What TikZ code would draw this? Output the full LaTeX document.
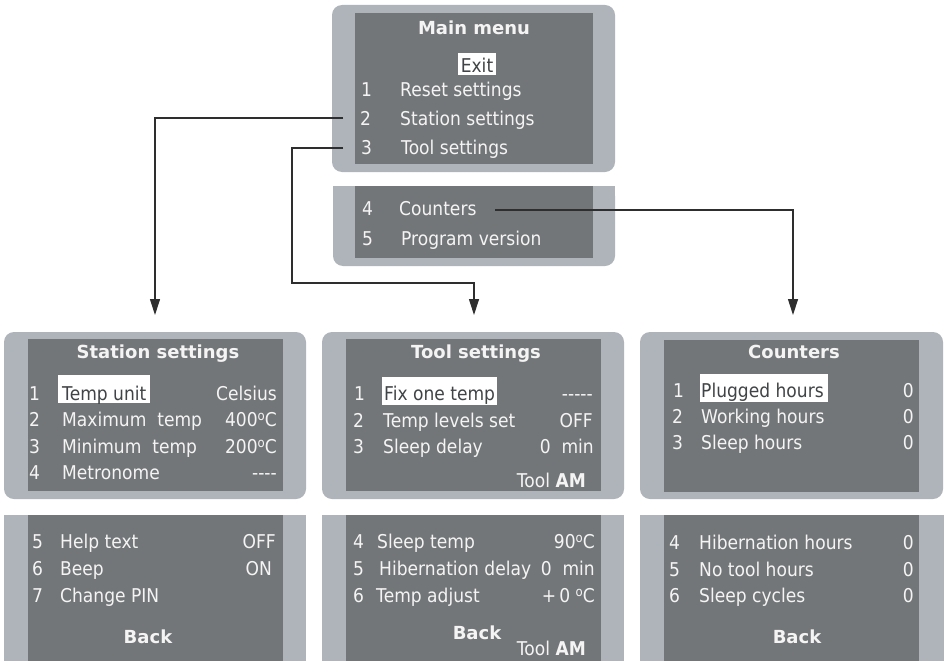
\documentclass[tikz,border=0pt]{standalone}
\usepackage{fontspec}
\newfontfamily\lcd[FakeStretch=0.9]{DejaVu Sans}
\newfontfamily\lcdtitle{DejaVu Sans}
\usetikzlibrary{arrows.meta}
\definecolor{bezel}{HTML}{AEB4B9}
\definecolor{screen}{HTML}{737678}
\definecolor{ink}{HTML}{F4F4F4}
\definecolor{hiink}{HTML}{414446}
\definecolor{wirec}{HTML}{2E2E2E}
\newcommand\degsym{\raisebox{6pt}{\fontsize{13}{13}\selectfont o}}
\begin{document}
\begin{tikzpicture}[x=1pt,y=-1pt,
  bezelbox/.style={fill=bezel, rounded corners=10pt},
  screenbox/.style={fill=screen},
  hibox/.style={fill=white},
  t/.style={font=\lcd\fontsize{19}{19}\selectfont, text=ink, inner sep=0pt, anchor=base west},
  tr/.style={t, anchor=base east},
  th/.style={t, text=hiink},
  ttl/.style={font=\lcdtitle\bfseries\fontsize{18}{18}\selectfont, text=ink, inner sep=0pt, anchor=base},
  wire/.style={draw=wirec, line width=1.1pt},
  arr/.style={wire, -{Triangle[length=16pt,width=10pt]}}
]
\useasboundingbox (0,0) rectangle (944,661);
\fill[white] (0,0) rectangle (944,661);

% ---------- main menu ----------
\fill[bezelbox] (332,5) rectangle (615,172);
\fill[screenbox] (355,13) rectangle (593,164);
\node[ttl] (mtitle) at (474,35) {Main menu};
\fill[hibox] (458,53) rectangle (496,75);
\node[th, anchor=base] (mexit) at (477,72.5) {Exit};
\node[t] (m1n) at (361,96.7) {1};
\node[t] (m1l) at (400,96.7) {Reset settings};
\node[t] (m2n) at (360,125) {2};
\node[t] (m2l) at (400,125) {Station settings};
\node[t] (m3n) at (361,154) {3};
\node[t] (m3l) at (401,154) {Tool settings};

% ---------- main menu, part 2 ----------
\fill[bezelbox] (333,186) rectangle (615,266);
\fill[bezel] (333,186) rectangle (615,226);
\fill[screenbox] (355,186) rectangle (593,258);
\node[t] (m4n) at (362,215) {4};
\node[t] (m4l) at (399,215) {Counters};
\node[t] (m5n) at (362,245) {5};
\node[t] (m5l) at (401,245) {Program version};

% ---------- station settings ----------
\fill[bezelbox] (4,332) rectangle (306,499);
\fill[screenbox] (28,339) rectangle (283,491);
\node[ttl] (stitle) at (158,358) {Station settings};
\fill[hibox] (58,375) rectangle (150,403);
\node[t] (s1n) at (29,400) {1};
\node[th] (s1l) at (62,400) {Temp unit};
\node[tr] (s1v) at (277,400) {Celsius};
\node[t] (s2n) at (29,426.5) {2};
\node[t] (s2l) at (62,426.5) {Maximum\ \ temp};
\node[tr] (s2v) at (277,426.5) {400\degsym C};
\node[t] (s3n) at (29,453) {3};
\node[t] (s3l) at (62,453) {Minimum\ \ temp};
\node[tr] (s3v) at (277,453) {200\degsym C};
\node[t] (s4n) at (29,479.5) {4};
\node[t] (s4l) at (62,479.5) {Metronome};
\node[tr] (s4v) at (277,479.5) {----};

\fill[bezel] (4,515) rectangle (306,661);
\fill[screenbox] (28,515) rectangle (283,661);
\node[t] (s5n) at (32,548) {5};
\node[t] (s5l) at (60,548) {Help text};
\node[tr] (s5v) at (276,548) {OFF};
\node[t] (s6n) at (32,575) {6};
\node[t] (s6l) at (60,575) {Beep};
\node[tr] (s6v) at (272,575) {ON};
\node[t] (s7n) at (32,602) {7};
\node[t] (s7l) at (60,602) {Change PIN};
\node[ttl] (sback) at (148,643) {Back};

% ---------- tool settings ----------
\fill[bezelbox] (322,332) rectangle (624,499);
\fill[screenbox] (346,339) rectangle (601,491);
\node[ttl] (ttitle) at (476,358) {Tool settings};
\fill[hibox] (382,377) rectangle (497,405);
\node[t] (t1n) at (354,400) {1};
\node[th] (t1l) at (384,400) {Fix one temp};
\node[tr] (t1v) at (593,400) {-----};
\node[t] (t2n) at (353,427) {2};
\node[t] (t2l) at (383,427) {Temp\ levels\ set};
\node[tr] (t2v) at (593,427) {OFF};
\node[t] (t3n) at (353,453) {3};
\node[t] (t3l) at (383,453) {Sleep delay};
\node[tr] (t3v) at (594,453) {0\ \ min};
\node[tr] (tam) at (586,487) {Tool \textbf{AM}};

\fill[bezel] (322,515) rectangle (624,661);
\fill[screenbox] (346,515) rectangle (601,661);
\node[t] (t4n) at (353,548) {4};
\node[t] (t4l) at (377,548) {Sleep temp};
\node[tr] (t4v) at (595,548) {90\degsym C};
\node[t] (t5n) at (353,575) {5};
\node[t] (t5l) at (379,575) {Hibernation delay};
\node[tr] (t5v) at (595,575) {0\ \ min};
\node[t] (t6n) at (353,602) {6};
\node[t] (t6l) at (376,602) {Temp adjust};
\node[tr] (t6v) at (595,602) {+\,0\ \degsym C};
\node[ttl] (tback) at (477,639) {Back};
\node[tr] (tam2) at (586,655) {Tool \textbf{AM}};

% ---------- counters ----------
\fill[bezelbox] (640,332) rectangle (943,499);
\fill[screenbox] (664,340) rectangle (919,492);
\node[ttl] (ctitle) at (794,358) {Counters};
\fill[hibox] (700,374) rectangle (828,402);
\node[t] (c1n) at (673,397) {1};
\node[th] (c1l) at (701,397) {Plugged hours};
\node[tr] (c1v) at (914,397) {0};
\node[t] (c2n) at (672,423) {2};
\node[t] (c2l) at (701,423) {Working hours};
\node[tr] (c2v) at (914,423) {0};
\node[t] (c3n) at (672,449) {3};
\node[t] (c3l) at (701,449) {Sleep hours};
\node[tr] (c3v) at (914,449) {0};

\fill[bezel] (640,515) rectangle (944,661);
\fill[screenbox] (664,515) rectangle (919,661);
\node[t] (c4n) at (669,549) {4};
\node[t] (c4l) at (699,549) {Hibernation hours};
\node[tr] (c4v) at (914,549) {0};
\node[t] (c5n) at (669,576) {5};
\node[t] (c5l) at (699,576) {No tool hours};
\node[tr] (c5v) at (914,576) {0};
\node[t] (c6n) at (669,602) {6};
\node[t] (c6l) at (699,602) {Sleep cycles};
\node[tr] (c6v) at (914,602) {0};
\node[ttl] (cback) at (797,643) {Back};

% ---------- connectors ----------
\coordinate (fromst) at (343,118);
\coordinate (fromtool) at (343,148);
\coordinate (fromcnt) at (495,210);
\coordinate (tost) at (155,315);
\coordinate (totool) at (474,315);
\coordinate (tocnt) at (793,315);
\draw[arr] (fromst) -| (tost);
\draw[arr] (fromtool) -- ++(-51,0) |- ([yshift=32pt]totool) -- (totool);
\draw[arr] (fromcnt) -| (tocnt);
\end{tikzpicture}
\end{document}
